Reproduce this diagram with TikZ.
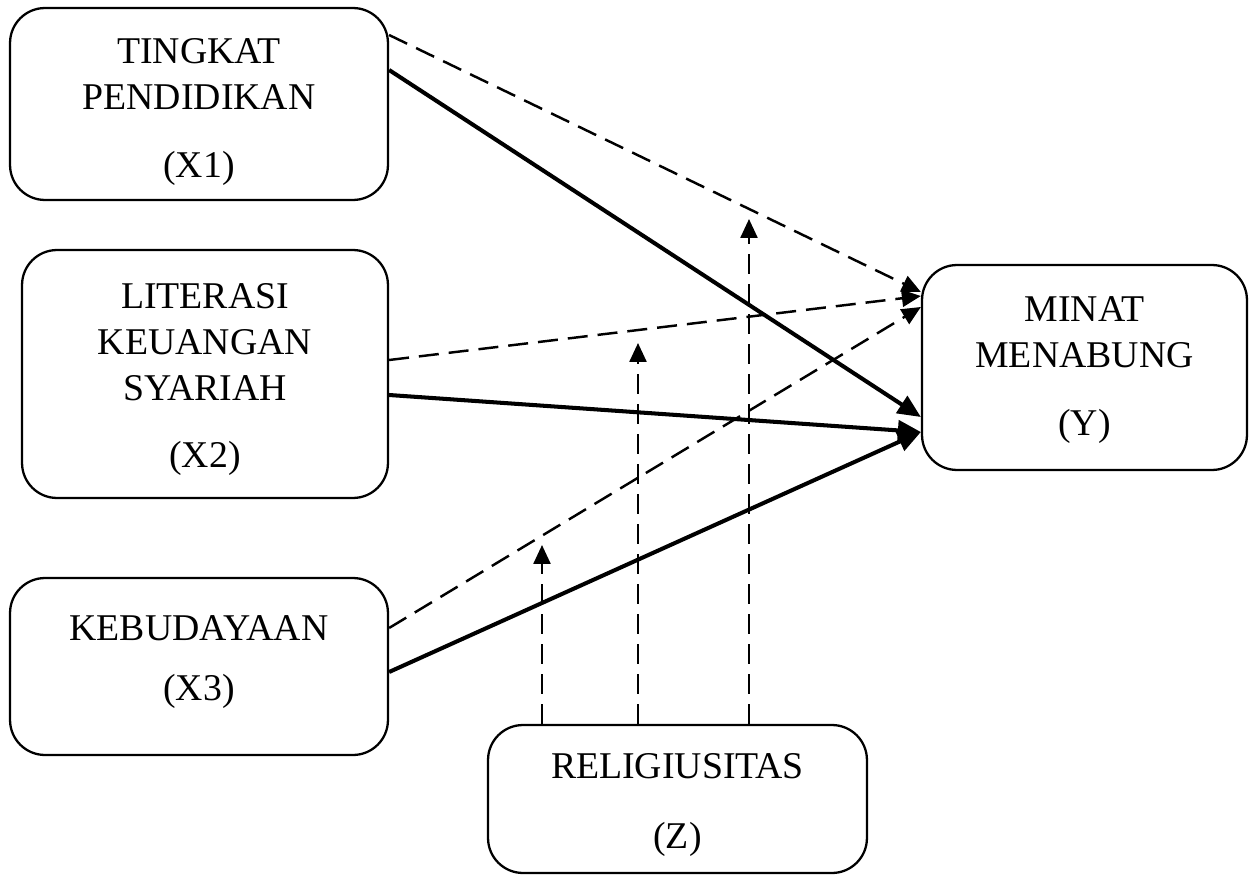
\documentclass[tikz,border=0pt]{standalone}
\usepackage{fontspec}
\setmainfont{Liberation Serif}
\usetikzlibrary{arrows.meta}
\newcommand{\upgap}[1]{\rule{0pt}{#1}}
\newcommand{\dngap}[1]{\rule[-#1]{0pt}{0pt}}

\begin{document}
\begin{tikzpicture}[
  x=0.02cm, y=-0.02cm,
  font=\fontsize{21.5}{26.2}\selectfont,
  box/.style={draw,rounded corners=0.7cm,line width=1.3pt,align=center,inner sep=0pt},
  eff/.style={-{Triangle[length=0.46cm,width=0.4cm]},line width=2.3pt},
  mod/.style={-{Triangle[length=0.38cm,width=0.34cm]},line width=1.4pt,
              dash pattern=on 0.4cm off 0.2cm},
]
\useasboundingbox (0,0) rectangle (1252,875);

% ====================================================== variables
\node[box,minimum width=7.56cm,minimum height=3.84cm] (X1) at (199,104)
  {\upgap{23pt}TINGKAT\\PENDIDIKAN\\[0.44cm](X1)};
\node[box,minimum width=7.32cm,minimum height=4.96cm] (X2) at (205,374)
  {\upgap{20pt}LITERASI\\KEUANGAN\\SYARIAH\\[0.42cm](X2)};
\node[box,minimum width=7.56cm,minimum height=3.54cm] (X3) at (199,666.5)
  {KEBUDAYAAN\\[0.28cm](X3)\dngap{10pt}};
\node[box,minimum width=6.5cm,minimum height=4.1cm] (Y) at (1084.5,367.5)
  {\upgap{17pt}MINAT\\MENABUNG\\[0.44cm](Y)};
\node[box,minimum width=7.58cm,minimum height=2.96cm] (Z) at (677.5,799)
  {\upgap{21pt}RELIGIUSITAS\\[0.48cm](Z)};

% -- direct effects
\draw[eff] (X1.east |- 0,70)  -- (Y.west |- 0,417);
\draw[eff] (X2.east |- 0,395) -- (Y.west |- 0,432);
\draw[eff] (X3.east |- 0,672) -- (Y.west |- 0,432);

% -- moderated paths
\draw[mod] (X1.east |- 0,35)  -- (Y.west |- 0,292);
\draw[mod] (X2.east |- 0,360) -- (Y.west |- 0,296);
\draw[mod] (X3.east |- 0,628) -- (Y.west |- 0,307);

% -- moderator arrows
\coordinate (m1) at (542,545);
\coordinate (m2) at (638,343);
\coordinate (m3) at (749,219);
\draw[mod] (Z.north -| m1) -- (m1);
\draw[mod] (Z.north -| m2) -- (m2);
\draw[mod] (Z.north -| m3) -- (m3);

\end{tikzpicture}
\end{document}
